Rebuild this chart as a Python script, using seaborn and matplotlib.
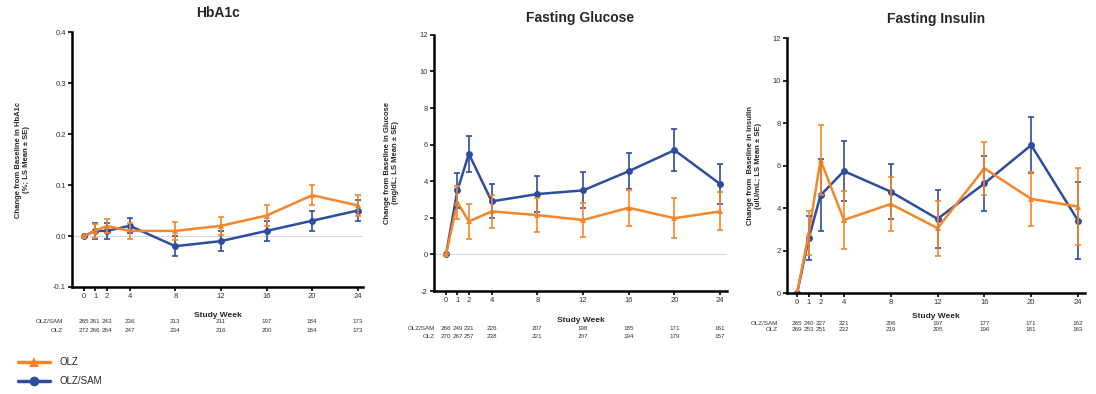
import numpy as np
import pandas as pd
import matplotlib
matplotlib.use("Agg")
import matplotlib.pyplot as plt
from matplotlib.lines import Line2D
import seaborn as sns

# ---- data ----
weeks = [0, 1, 2, 4, 8, 12, 16, 20, 24]
arms = ["OLZ/SAM", "OLZ"]

hba1c_sam = [0.0, 0.01, 0.01, 0.02, -0.02, -0.01, 0.01, 0.03, 0.05]
hba1c_sam_se = [0.0, 0.015, 0.015, 0.015, 0.02, 0.019, 0.02, 0.02, 0.02]
hba1c_olz = [0.0, 0.01, 0.02, 0.01, 0.01, 0.02, 0.04, 0.08, 0.06]
hba1c_olz_se = [0.0, 0.013, 0.014, 0.015, 0.018, 0.018, 0.02, 0.02, 0.02]

glu_sam = [0.0, 3.5, 5.5, 2.9, 3.3, 3.5, 4.55, 5.7, 3.85]
glu_sam_se = [0.0, 0.95, 1.0, 0.93, 0.97, 0.98, 1.0, 1.14, 1.1]
glu_olz = [0.0, 2.85, 1.8, 2.35, 2.15, 1.88, 2.55, 1.98, 2.35]
glu_olz_se = [0.0, 0.91, 0.93, 0.9, 0.95, 0.93, 0.98, 1.1, 1.04]

ins_sam = [0.0, 2.58, 4.6, 5.74, 4.77, 3.49, 5.16, 6.96, 3.41]
ins_sam_se = [0.0, 1.03, 1.7, 1.4, 1.3, 1.35, 1.3, 1.33, 1.8]
ins_olz = [0.0, 2.82, 6.26, 3.44, 4.19, 3.05, 5.87, 4.43, 4.07]
ins_olz_se = [0.0, 1.03, 1.65, 1.37, 1.27, 1.3, 1.25, 1.28, 1.8]

n_hba1c_sam = [265, 261, 243, 236, 213, 211, 197, 184, 173]
n_hba1c_olz = [272, 266, 264, 247, 234, 216, 200, 184, 173]
n_glu_sam = [266, 249, 231, 226, 207, 198, 185, 171, 161]
n_glu_olz = [270, 267, 257, 238, 221, 207, 194, 179, 157]
n_ins_sam = [265, 240, 227, 221, 206, 197, 177, 171, 162]
n_ins_olz = [269, 253, 251, 232, 219, 205, 196, 181, 163]

titles = ["HbA1c", "Fasting Glucose", "Fasting Insulin"]
ylabels = ["Change from Baseline in HbA1c\n(%; LS Mean \u00b1 SE)",
           "Change from Baseline in Glucose\n(mg/dL; LS Mean \u00b1 SE)",
           "Change from  Baseline in Insulin\n(uIU/mL; LS Mean \u00b1 SE)"]

colors = {"OLZ/SAM": "#2f4d9e", "OLZ": "#f5862a"}
markers = {"OLZ/SAM": "o", "OLZ": "^"}

sns.set_theme(style="ticks")
plt.rcParams["font.family"] = ["Liberation Sans", "DejaVu Sans"]
plt.rcParams["axes.unicode_minus"] = False

fig = plt.figure(figsize=(10.96, 3.94), dpi=100)

panels = [
    dict(sam=hba1c_sam, sam_se=hba1c_sam_se, olz=hba1c_olz, olz_se=hba1c_olz_se,
         n_sam=n_hba1c_sam, n_olz=n_hba1c_olz, ylim=(-0.1, 0.4), yticks=[-0.1, 0, 0.1, 0.2, 0.3, 0.4],
         ytl=["-0.1", "0.0", "0.1", "0.2", "0.3", "0.4"], zero=True,
         rect=[0.0657, 0.2716, 0.2655, 0.647], xlim=(-1.05, 24.45), tpad=11,
         ylab_x=-0.145, xlab_y=-0.1, n_y=(-0.137, -0.169), lab_x=-1.84),
    dict(sam=glu_sam, sam_se=glu_sam_se, olz=glu_olz, olz_se=glu_olz_se,
         n_sam=n_glu_sam, n_olz=n_glu_olz, ylim=(-2, 12), yticks=[-2, 0, 2, 4, 6, 8, 10, 12],
         ytl=None, zero=True,
         rect=[0.396, 0.2614, 0.2673, 0.65], xlim=(-1.05, 24.6), tpad=9,
         ylab_x=-0.118, xlab_y=-0.1, n_y=(-0.145, -0.176), lab_x=-0.96),
    dict(sam=ins_sam, sam_se=ins_sam_se, olz=ins_olz, olz_se=ins_olz_se,
         n_sam=n_ins_sam, n_olz=n_ins_olz, ylim=(0, 12), yticks=[0, 2, 4, 6, 8, 10, 12],
         ytl=None, zero=False,
         rect=[0.718, 0.2563, 0.272, 0.647], xlim=(-0.87, 24.6), tpad=11,
         ylab_x=-0.085, xlab_y=-0.08, n_y=(-0.118, -0.145), lab_x=-1.66),
]

for i, p in enumerate(panels):
    ax = fig.add_axes(p["rect"])
    df = pd.DataFrame({
        "week": weeks * 2,
        "mean": p["sam"] + p["olz"],
        "arm": ["OLZ/SAM"] * len(weeks) + ["OLZ"] * len(weeks),
    })
    if p["zero"]:
        ax.axhline(0, color="#d9d9d9", lw=0.8, zorder=0)

    sns.lineplot(data=df, x="week", y="mean", hue="arm", style="arm",
                 hue_order=arms, style_order=arms, palette=colors,
                 markers=markers, dashes=False, lw=1.8, markersize=5,
                 markeredgewidth=0, legend=False, ax=ax, errorbar=None)
    ax.errorbar(weeks, p["sam"], yerr=p["sam_se"], fmt="none", ecolor=colors["OLZ/SAM"],
                elinewidth=1.2, capsize=2.5, capthick=1.2)
    ax.errorbar(weeks, p["olz"], yerr=p["olz_se"], fmt="none", ecolor=colors["OLZ"],
                elinewidth=1.2, capsize=2.5, capthick=1.2)

    ax.set_xlim(*p["xlim"])
    ax.set_ylim(*p["ylim"])
    ax.set_xticks(weeks)
    ax.set_yticks(p["yticks"])
    if p["ytl"]:
        ax.set_yticklabels(p["ytl"])
    ax.tick_params(axis="both", labelsize=5.5, length=3, width=1.2, pad=1.5, colors="black",
                   labelcolor="#333333")
    for s in ["left", "bottom"]:
        ax.spines[s].set_linewidth(1.8)
        ax.spines[s].set_color("black")
    sns.despine(ax=ax)

    ax.set_title(titles[i], fontsize=10, fontweight="bold", pad=p["tpad"])
    ax.set_ylabel(ylabels[i], fontsize=5.5, fontweight="bold", linespacing=1.2)
    ax.yaxis.set_label_coords(p["ylab_x"], 0.5)
    ax.set_xlabel("Study Week", fontsize=6, fontweight="bold")
    ax.xaxis.set_label_coords(0.5, p["xlab_y"])

    # number of subjects at each visit
    tr = ax.get_xaxis_transform()
    ax.text(p["lab_x"], p["n_y"][0], "OLZ/SAM", transform=tr, fontsize=4.5,
            ha="right", va="center", color="#333333", clip_on=False)
    ax.text(p["lab_x"], p["n_y"][1], "OLZ", transform=tr, fontsize=4.5,
            ha="right", va="center", color="#333333", clip_on=False)
    for w, a, b in zip(weeks, p["n_sam"], p["n_olz"]):
        ax.text(w, p["n_y"][0], str(a), transform=tr, fontsize=4.5, ha="center",
                va="center", color="#333333", clip_on=False)
        ax.text(w, p["n_y"][1], str(b), transform=tr, fontsize=4.5, ha="center",
                va="center", color="#333333", clip_on=False)

handles = [Line2D([], [], color=colors["OLZ"], marker="^", lw=2.5, markersize=7, markeredgewidth=0),
           Line2D([], [], color=colors["OLZ/SAM"], marker="o", lw=2.5, markersize=7, markeredgewidth=0)]
fig.legend(handles, ["OLZ", "OLZ/SAM"], loc="upper left", bbox_to_anchor=(0.008, 0.115),
           frameon=False, fontsize=7, handlelength=3.3, labelspacing=0.9, handletextpad=1.0)

fig.savefig("out.png", dpi=100)
